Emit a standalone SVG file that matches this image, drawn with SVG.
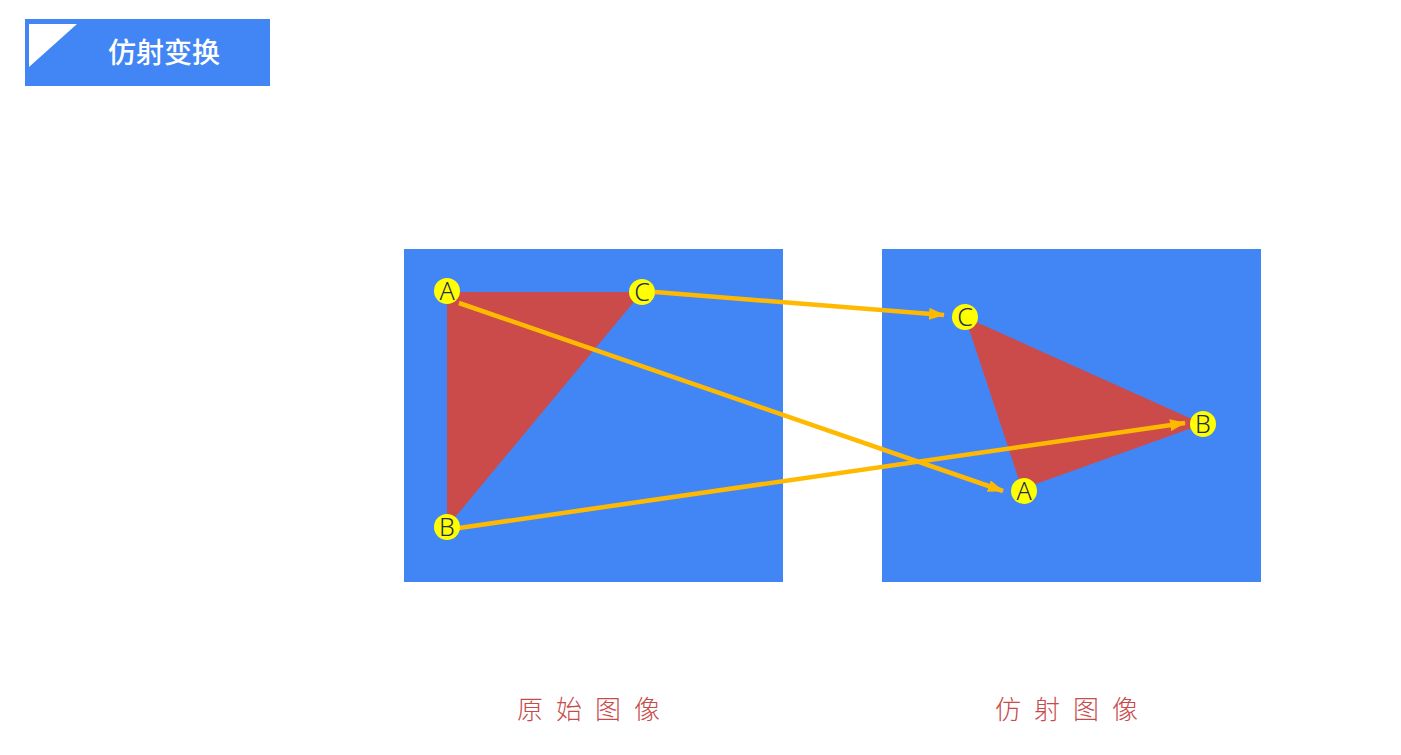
<svg xmlns="http://www.w3.org/2000/svg" width="1401" height="755" viewBox="0 0 1401 755">
<style>
.panel{fill:#4286F5}
.tri{fill:#CB4B4B}
.pt circle{fill:#FFFF00}
.pt text{font-family:"Noto Sans","Liberation Sans",sans-serif;font-weight:300;font-size:25px;fill:#1F2A55;text-anchor:middle}
.cap{font-family:"Noto Sans CJK SC","Noto Sans",sans-serif;font-weight:300;font-size:26px;fill:#C84B4B;letter-spacing:13px}
.conn{stroke:#FFB900;stroke-width:4.5;fill:none;marker-end:url(#ah)}
</style>
<defs>
<marker id="ah" markerUnits="userSpaceOnUse" markerWidth="16" markerHeight="12" refX="15" refY="6" orient="auto">
<path d="M0,0 L16,6 L0,12 Z" fill="#FFB900"/>
</marker>
</defs>
<rect width="1401" height="755" fill="#FFFFFF"/>
<g id="header">
<rect x="25" y="19" width="245" height="67" fill="#4286F5"/>
<polygon points="29,24 77,24 29,67" fill="#FFFFFF"/>
<text x="164" y="63" font-family="'Noto Sans CJK SC','Noto Sans',sans-serif" font-weight="500" font-size="28" fill="#FFFFFF" text-anchor="middle">仿射变换</text>
</g>
<g id="original-image">
<rect class="panel" x="404" y="249" width="379" height="333"/>
<polygon class="tri" points="447,292 642,292 447,527"/>
</g>
<g id="affine-image">
<rect class="panel" x="882" y="249" width="379" height="333"/>
<polygon class="tri" points="965,317 1203,424 1022,489"/>
</g>
<g id="connectors">
<line class="conn" x1="655" y1="292" x2="944" y2="315"/>
<line class="conn" x1="459" y1="303" x2="1003" y2="491"/>
<line class="conn" x1="459" y1="528" x2="1185" y2="423"/>
</g>
<g id="pt-A" class="pt"><circle cx="447" cy="291" r="13"/><text x="447" y="300">A</text></g>
<g id="pt-C" class="pt"><circle cx="642" cy="292" r="13"/><text x="642" y="301">C</text></g>
<g id="pt-B" class="pt"><circle cx="447" cy="527" r="13"/><text x="447" y="536">B</text></g>
<g id="pt-C2" class="pt"><circle cx="965" cy="317" r="13"/><text x="965" y="326">C</text></g>
<g id="pt-B2" class="pt"><circle cx="1203" cy="424" r="13"/><text x="1203" y="433">B</text></g>
<g id="pt-A2" class="pt"><circle cx="1024" cy="491" r="13"/><text x="1024" y="500">A</text></g>
<g id="captions">
<text class="cap" x="517" y="719">原始图像</text>
<text class="cap" x="995" y="719">仿射图像</text>
</g>
</svg>
